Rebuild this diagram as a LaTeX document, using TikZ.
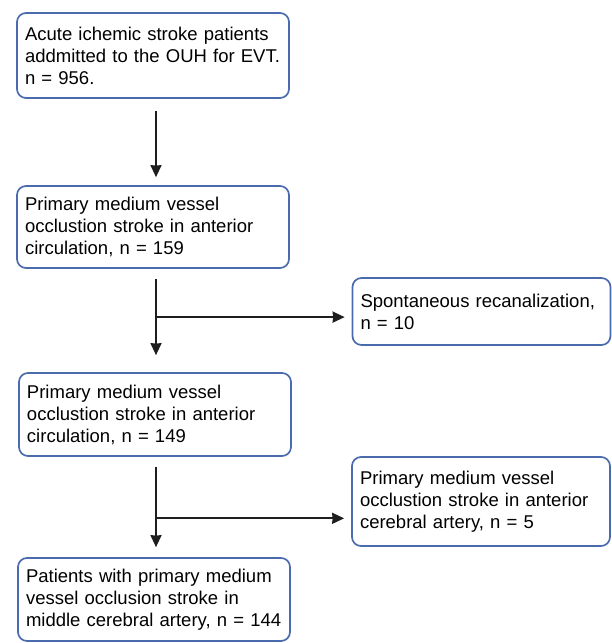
\documentclass[tikz,border=0pt]{standalone}
\usepackage{fontspec}
\setmainfont{Liberation Sans}
\usetikzlibrary{arrows.meta, positioning, calc}
\definecolor{boxblue}{HTML}{4A6CAE}
\definecolor{arrblack}{HTML}{1E1E1E}

\begin{document}
\begin{tikzpicture}[
  x=1pt, y=-1pt,
  >={Stealth[length=12pt, width=11pt, inset=0.5pt]},
  arr/.style={draw=arrblack, line width=1.9pt, ->},
  mainbox/.style={rectangle, rounded corners=9pt, draw=boxblue, line width=1.7pt,
    fill=white, minimum width=272pt, text width=256pt, inner xsep=8pt,
    align=left, font=\fontsize{18.5}{22}\selectfont},
  sidebox/.style={mainbox, minimum width=258pt, text width=242pt},
]

% Canvas
\useasboundingbox (0,0) rectangle (612,643);

% === Main column ===
\node[mainbox, minimum height=85pt] (admit) at (153,55.5)
  {Acute ichemic stroke patients\\addmitted to the OUH for EVT.\\n = 956.};
\node[mainbox, minimum height=82pt] (mvo1) at (153,227)
  {Primary medium vessel\\occlustion stroke in anterior\\circulation, n = 159};
\node[mainbox, minimum height=83pt] (mvo2) at (155,414.5)
  {Primary medium vessel\\occlustion stroke in anterior\\circulation, n = 149};
\node[mainbox, minimum height=83pt] (mca) at (154,599.5)
  {Patients with primary medium\\vessel occlusion stroke in\\middle cerebral artery, n = 144};

% === Exclusions ===
\node[sidebox, minimum height=67pt] (recan) at (481.5,311.5)
  {Spontaneous recanalization,\\n = 10};
\node[sidebox, minimum height=89pt] (aca) at (481,501.5)
  {Primary medium vessel\\occlustion stroke in anterior\\cerebral artery, n = 5};

% Arrows down the column
\coordinate (top1) at ($(admit.south)+(3,12)$);
\draw[arr, shorten >=8pt] (top1) -- (top1 |- mvo1.north);

\coordinate (top2) at ($(mvo1.south)+(3,10)$);
\draw[arr, shorten >=17pt] (top2) -- (top2 |- mvo2.north);
\coordinate (split1) at ($(top2)!0.41!(top2 |- mvo2.north)$);
\draw[arr, shorten >=7pt] (split1) -- (split1 -| recan.west);

\coordinate (top3) at ($(mvo2.south)+(1,10)$);
\draw[arr, shorten >=10pt] (top3) -- (top3 |- mca.north);
\coordinate (split2) at ($(top3)!0.57!(top3 |- mca.north)$);
\draw[arr, shorten >=7pt] (split2) -- (split2 -| aca.west);

\end{tikzpicture}
\end{document}
